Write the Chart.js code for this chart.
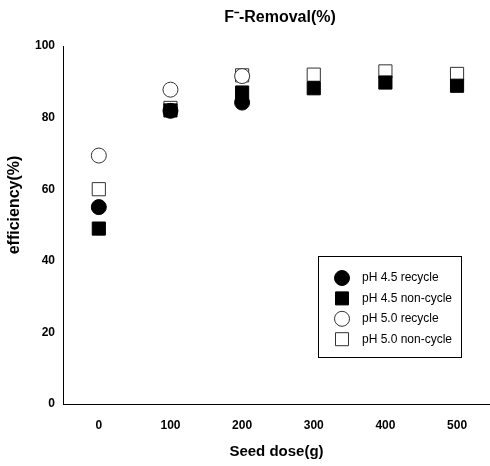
<!DOCTYPE html>
<html>
<head>
<meta charset="utf-8">
<script src="https://cdn.jsdelivr.net/npm/chart.js@4.4.1/dist/chart.umd.min.js"></script>
<style>
  html, body { margin: 0; padding: 0; background: #fff; overflow: hidden; }
  canvas { display: block; }
</style>
</head>
<body>
<canvas id="myChart" width="490" height="466"></canvas>
<script>
// seed dose (g)
const seedDose = [0, 100, 200, 300, 400, 500];
const xTicks = [0, 100, 200, 300, 400, 500];
const yTicks = [0, 20, 40, 60, 80, 100];

// removal efficiency (%)
const ph45Recycle = [55, 81.9, 84.2, null, null, null];
const ph45NonCycle = [49, 82, 87, 88.2, 89.8, 88.9];
const ph50Recycle = [69.4, 87.8, 91.6, null, null, null];
const ph50NonCycle = [60, 82.7, 91.8, 92, 92.9, 92.2];

const seriesNames = ['pH 4.5 recycle', 'pH 4.5 non-cycle', 'pH 5.0 recycle', 'pH 5.0 non-cycle'];
const chartTitle = 'F\u207B-Removal(%)';
const yTitle = 'efficiency(%)';

const FONT = '"Liberation Sans", Arial, sans-serif';

function pts(vals) {
  return seedDose.map((x, i) => ({ x: x, y: vals[i] })).filter(p => p.y !== null);
}

function makeSet(name, vals, style, filled) {
  return {
    label: name,
    data: pts(vals),
    pointStyle: style,
    pointRadius: style === 'circle' ? 7.5 : 9.3,
    pointHoverRadius: style === 'circle' ? 7.5 : 9.3,
    pointBorderWidth: 1,
    pointBorderColor: filled ? '#000' : '#333',
    pointBackgroundColor: filled ? '#000' : '#fff',
    showLine: false
  };
}

// title, y title and the boxed legend inside the plot
const extras = {
  id: 'extras',
  afterDatasetsDraw(chart) {
    const ctx = chart.ctx;
    ctx.save();
    ctx.fillStyle = '#000';
    ctx.textAlign = 'center';
    ctx.textBaseline = 'middle';
    ctx.font = 'bold 16px ' + FONT;
    ctx.fillText(chartTitle, 280, 18);

    ctx.save();
    ctx.translate(15, 205);
    ctx.rotate(-Math.PI / 2);
    ctx.font = 'bold 16px ' + FONT;
    ctx.fillText(yTitle, 0, 0);
    ctx.restore();

    ctx.strokeStyle = '#000';
    ctx.lineWidth = 1;
    ctx.strokeRect(318.5, 256.5, 143, 101);
    chart.data.datasets.forEach((ds, i) => {
      const cy = 278 + i * 20.4;
      const cx = 342;
      ctx.beginPath();
      if (ds.pointStyle === 'circle') {
        ctx.arc(cx, cy, 7.5, 0, Math.PI * 2);
      } else {
        ctx.rect(cx - 6.5, cy - 6.5, 13, 13);
      }
      ctx.fillStyle = ds.pointBackgroundColor;
      ctx.fill();
      ctx.strokeStyle = ds.pointBorderColor;
      ctx.stroke();
      ctx.fillStyle = '#000';
      ctx.font = '12px ' + FONT;
      ctx.textAlign = 'left';
      ctx.fillText(ds.label, 362, cy);
    });
    ctx.restore();
  }
};

const ctx = document.getElementById('myChart');
new Chart(ctx, {
  type: 'scatter',
  data: {
    datasets: [
      makeSet(seriesNames[0], ph45Recycle, 'circle', true),
      makeSet(seriesNames[1], ph45NonCycle, 'rect', true),
      makeSet(seriesNames[2], ph50Recycle, 'circle', false),
      makeSet(seriesNames[3], ph50NonCycle, 'rect', false)
    ]
  },
  options: {
    responsive: false,
    animation: false,
    layout: { autoPadding: false, padding: { top: 46, left: 0, right: 0, bottom: 0 } },
    plugins: {
      legend: { display: false },
      tooltip: { enabled: false },
      title: { display: false }
    },
    scales: {
      x: {
        type: 'linear',
        min: -50,
        max: 546,
        afterBuildTicks: s => { s.ticks = xTicks.map(v => ({ value: v })); },
        afterFit: s => { s.height = 62; s.paddingLeft = 0; s.paddingRight = 0; },
        grid: { display: false, drawTicks: true, tickLength: 5, tickColor: '#000' },
        border: { color: '#000', width: 1 },
        ticks: {
          color: '#000',
          padding: 9,
          maxRotation: 0,
          font: { family: FONT, size: 12, weight: 'bold' }
        },
        title: {
          display: true,
          text: 'Seed dose(g)',
          color: '#000',
          font: { family: FONT, size: 15, weight: 'bold' },
          padding: { top: 0, bottom: 5 }
        }
      },
      y: {
        min: 0,
        max: 100,
        afterBuildTicks: s => { s.ticks = yTicks.map(v => ({ value: v })); },
        afterFit: s => { s.width = 63; s.paddingTop = 0; s.paddingBottom = 0; },
        grid: { display: false, drawTicks: true, tickLength: 5, tickColor: '#000' },
        border: { color: '#000', width: 1 },
        ticks: {
          color: '#000',
          padding: 3,
          font: { family: FONT, size: 12, weight: 'bold' }
        }
      }
    }
  },
  plugins: [extras]
});
</script>
</body>
</html>
